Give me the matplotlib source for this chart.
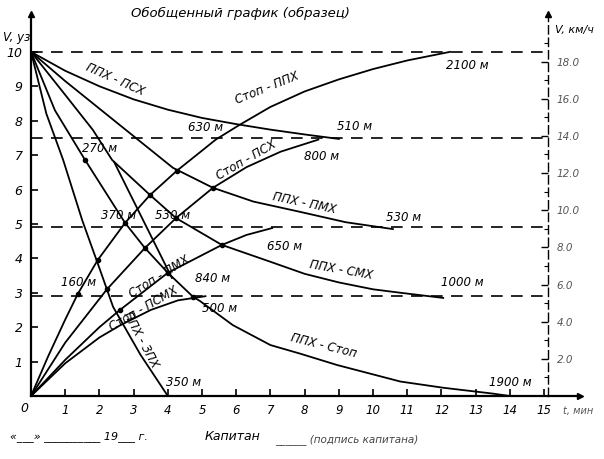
import matplotlib
matplotlib.use('Agg')
import matplotlib.pyplot as plt

KMH_PER_KN = 1.852

# ---------------- data (t, min ; V, knots) ----------------
# acceleration curves from stop
stop_ppx_t = [0, 0.5, 1.0, 1.37, 1.95, 2.75, 3.48, 4.27, 5.0, 5.4, 6.1, 7.0, 8.0, 9.0, 10.0, 11.0, 12.25]
stop_ppx_v = [0, 1.15, 2.22, 2.97, 3.95, 5.03, 5.84, 6.55, 7.13, 7.45, 7.88, 8.4, 8.85, 9.2, 9.5, 9.75, 10.0]

stop_psx_t = [0, 1.0, 2.22, 3.33, 4.24, 5.32, 6.3, 7.3, 8.4]
stop_psx_v = [0, 1.55, 3.1, 4.3, 5.17, 6.05, 6.65, 7.1, 7.45]

stop_pmx_t = [0, 1.0, 2.0, 2.6, 4.0, 5.58, 6.3, 7.05]
stop_pmx_v = [0, 1.05, 2.0, 2.5, 3.58, 4.39, 4.68, 4.88]

stop_psmx_t = [0, 1.0, 2.0, 2.6, 3.5, 4.3, 5.1]
stop_psmx_v = [0, 0.95, 1.7, 2.05, 2.5, 2.78, 2.9]

# deceleration curves from full ahead
ppx_psx_t = [0, 1, 2, 3, 4, 5, 6, 7, 8, 9]
ppx_psx_v = [10, 9.45, 9.0, 8.62, 8.32, 8.08, 7.9, 7.74, 7.6, 7.47]

ppx_pmx_t = [0, 1, 2, 3, 4.15, 5.32, 6.5, 7.87, 9.2, 10.58]
ppx_pmx_v = [10, 9.15, 8.35, 7.55, 6.63, 6.05, 5.65, 5.35, 5.05, 4.85]

ppx_smx_t = [0, 1.0, 1.81, 2.37, 3.48, 4.24, 5.58, 7.0, 8.0, 9.0, 10.0, 10.8, 12.05]
ppx_smx_v = [10, 8.75, 7.73, 6.86, 5.84, 5.17, 4.39, 3.9, 3.55, 3.3, 3.1, 3.0, 2.85]

ppx_stop_t = [0, 0.7, 1.58, 2.75, 3.33, 4.0, 4.74, 4.94, 5.9, 7.0, 7.87, 8.95, 10.8, 12.05, 13.5, 14.0]
ppx_stop_v = [10, 8.3, 6.86, 5.03, 4.3, 3.58, 2.88, 2.76, 2.06, 1.48, 1.23, 0.9, 0.42, 0.24, 0.07, 0.0]

ppx_zpx_t = [0, 0.45, 0.94, 1.5, 2.02, 2.4, 3.2, 4.0]
ppx_zpx_v = [10, 8.2, 6.86, 5.1, 3.66, 2.59, 1.2, 0.0]

link_t = [2.43, 4.12]
link_v = [6.8, 3.43]

ref_speeds = [10, 7.5, 4.9, 2.9]

x_ticks = [1, 2, 3, 4, 5, 6, 7, 8, 9, 10, 11, 12, 13, 14, 15]
x_ticklabels = ['1', '2', '3', '4', '5', '6', '7', '8', '9', '10', '11', '12', '13', '14', '15']
y_ticks = [1, 2, 3, 4, 5, 6, 7, 8, 9, 10]
kmh_ticks = [2, 4, 6, 8, 10, 12, 14, 16, 18]
kmh_minor = [1, 3, 5, 7, 9, 11, 13, 15, 17, 19]

# ---------------- figure ----------------
plt.rcParams['font.family'] = ['DejaVu Sans']
fig = plt.figure(figsize=(6.04, 4.59), dpi=100)
ax = fig.add_axes([31 / 604, 63 / 459, (580 - 31) / 604, (396 - 14) / 459])
ax.set_xlim(0, 16.05)
ax.set_ylim(0, 11.1)
for s in ['top', 'right']:
    ax.spines[s].set_visible(False)
for s in ['left', 'bottom']:
    ax.spines[s].set_linewidth(1.6)

ax.set_xticks(x_ticks)
ax.set_xticklabels(x_ticklabels, fontstyle='italic', fontsize=8.5)
ax.set_yticks(y_ticks)
ax.set_yticklabels([str(v) for v in y_ticks], fontstyle='italic', fontsize=9)
ax.tick_params(direction='in', length=5, width=1.2, pad=6)

# axis arrows
ax.plot(0, 1, '^k', ms=5, transform=ax.transAxes, clip_on=False)
ax.plot(1, 0, '>k', ms=5, transform=ax.transAxes, clip_on=False)

# right km/h axis
xr = 15.12
sec = ax.secondary_yaxis(xr / 16.05, functions=(lambda v: v * KMH_PER_KN, lambda v: v / KMH_PER_KN))
sec.set_yticks(kmh_ticks)
sec.set_yticklabels(['%.1f' % v for v in kmh_ticks], fontstyle='italic', fontsize=7.5, color='#555555')
sec.set_yticks(kmh_minor, minor=True)
sec.tick_params(direction='in', length=5, width=1.0, pad=6)
sec.tick_params(which='minor', direction='in', length=3, width=0.8)
sec.spines['right'].set_linewidth(1.0)
sec.spines['right'].set_linestyle((0, (6, 3)))
ax.plot(xr, 1, '^k', ms=4, transform=ax.get_xaxis_transform(), clip_on=False)

# reference speed dashed lines
for v in ref_speeds:
    ax.plot([0, xr], [v, v], color='black', lw=1.2, ls=(0, (7, 5)))

lw = 1.3
for t, v in [(stop_ppx_t, stop_ppx_v), (stop_psx_t, stop_psx_v), (stop_pmx_t, stop_pmx_v),
             (stop_psmx_t, stop_psmx_v), (ppx_psx_t, ppx_psx_v), (ppx_pmx_t, ppx_pmx_v),
             (ppx_smx_t, ppx_smx_v), (ppx_stop_t, ppx_stop_v), (ppx_zpx_t, ppx_zpx_v),
             (link_t, link_v)]:
    ax.plot(t, v, color='black', lw=lw, solid_joinstyle='round')

# intersection dots
dots_t = [1.37, 1.95, 2.75, 3.48, 4.27, 2.22, 3.33, 4.24, 5.32, 2.6, 4.0, 5.58, 1.58, 4.74]
dots_v = [2.97, 3.95, 5.03, 5.84, 6.55, 3.1, 4.3, 5.17, 6.05, 2.5, 3.58, 4.39, 6.86, 2.88]
ax.plot(dots_t, dots_v, 'o', color='black', ms=3)

fs = 8.5
def lab(x, y, s, rot=0, **kw):
    ax.text(x, y, s, fontsize=kw.pop('fontsize', fs), style='italic', rotation=rot,
            ha='center', va='center', **kw)

lab(2.45, 9.2, 'ППХ - ПСХ', -24)
lab(6.9, 8.95, 'Стоп - ППХ', 22)
lab(5.1, 7.8, '630 м')
lab(2.0, 7.2, '270 м')
lab(6.3, 6.85, 'Стоп - ПСХ', 30)
lab(9.45, 7.83, '510 м')
lab(8.5, 6.95, '800 м')
lab(8.0, 5.6, 'ППХ - ПМХ', -12)
lab(10.9, 5.2, '530 м')
lab(2.55, 5.25, '370 м')
lab(4.15, 5.25, '530 м')
lab(7.4, 4.35, '650 м')
lab(9.05, 3.65, 'ППХ - СМХ', -10)
lab(12.6, 3.3, '1000 м')
lab(1.4, 3.3, '160 м')
lab(3.75, 3.45, 'Стоп - ПМХ', 32)
lab(5.3, 3.4, '840 м')
lab(3.3, 2.55, 'Стоп - ПСМХ', 30)
lab(5.5, 2.55, '500 м')
lab(3.2, 1.65, 'ППХ - ЗПХ', -62)
lab(4.45, 0.4, '350 м')
lab(8.55, 1.45, 'ППХ - Стоп', -14)
lab(14.0, 0.4, '1900 м')
lab(12.75, 9.6, '2100 м')

fig.text(3 / 604, 1 - 37 / 459, 'V, уз', fontsize=8.5, style='italic', va='center')
fig.text(555 / 604, 1 - 30 / 459, 'V, км/ч', fontsize=8, style='italic', va='center')
fig.text(563 / 604, 1 - 411 / 459, 't, мин', fontsize=7, style='italic', va='center', color='#555555')
fig.text(20 / 604, 1 - 408 / 459, '0', fontsize=9, style='italic', va='center')
fig.text(240 / 604, 1 - 13 / 459, 'Обобщенный график (образец)', fontsize=9.5, style='italic',
         ha='center', va='center')
fig.text(10 / 604, 1 - 437 / 459, '«___» __________ 19___ г.', fontsize=8, style='italic', va='center')
fig.text(205 / 604, 1 - 437 / 459, 'Капитан', fontsize=9, style='italic', va='center')
fig.text(275 / 604, 1 - 440 / 459, '______ (подпись капитана)', fontsize=7.5, style='italic',
         va='center', color='#444444')

fig.savefig('out.png', dpi=100)
